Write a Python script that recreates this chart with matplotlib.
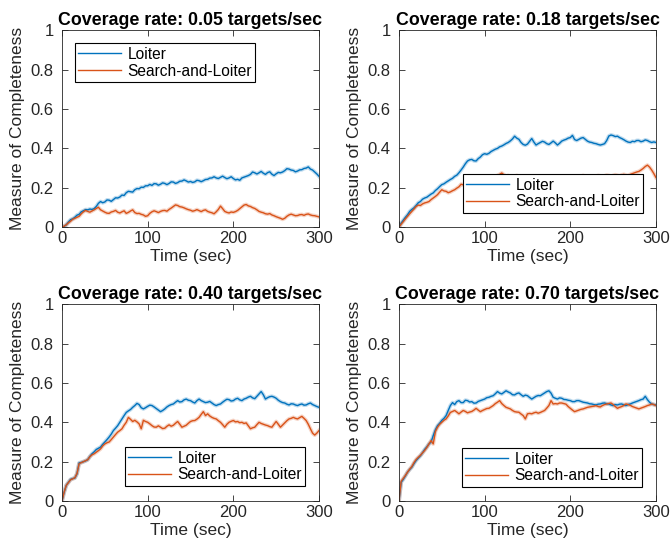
import matplotlib
matplotlib.use("Agg")
import matplotlib.pyplot as plt
import numpy as np

plt.rcParams['font.family'] = ['Liberation Sans', 'DejaVu Sans']

# time axis: one sample every 2.5 s, 0..300 s
time_sec = np.linspace(0, 300, 121)

rates = ["0.05", "0.18", "0.40", "0.70"]
series_names = ["Loiter", "Search-and-Loiter"]
x_ticks = [0, 100, 200, 300]
y_ticks = [0, 0.2, 0.4, 0.6, 0.8, 1]
y_tick_labels = ["0", "0.2", "0.4", "0.6", "0.8", "1"]

# rate 0.05
loiter_005 = [
    0.000, 0.004, 0.012, 0.026, 0.038, 0.042, 0.050, 0.061, 0.065, 0.078,
    0.083, 0.089, 0.088, 0.092, 0.090, 0.094, 0.105, 0.121, 0.130, 0.124,
    0.128, 0.138, 0.137, 0.131, 0.140, 0.149, 0.148, 0.153, 0.163, 0.161,
    0.175, 0.182, 0.180, 0.178, 0.190, 0.196, 0.195, 0.203, 0.202, 0.210,
    0.210, 0.217, 0.212, 0.221, 0.220, 0.213, 0.218, 0.225, 0.222, 0.216,
    0.222, 0.230, 0.229, 0.222, 0.226, 0.233, 0.234, 0.240, 0.235, 0.229,
    0.232, 0.227, 0.230, 0.238, 0.236, 0.231, 0.236, 0.242, 0.243, 0.249,
    0.250, 0.256, 0.250, 0.247, 0.253, 0.259, 0.252, 0.246, 0.250, 0.256,
    0.247, 0.240, 0.243, 0.238, 0.250, 0.254, 0.258, 0.262, 0.268, 0.280,
    0.276, 0.270, 0.276, 0.283, 0.274, 0.268, 0.277, 0.281, 0.269, 0.262,
    0.271, 0.278, 0.276, 0.280, 0.287, 0.297, 0.295, 0.290, 0.288, 0.281,
    0.285, 0.291, 0.292, 0.298, 0.300, 0.306, 0.295, 0.290, 0.280, 0.270,
    0.258]
search_005 = [
    0.000, 0.005, 0.012, 0.022, 0.030, 0.040, 0.045, 0.050, 0.055, 0.068,
    0.078, 0.085, 0.080, 0.076, 0.082, 0.088, 0.095, 0.101, 0.088, 0.082,
    0.076, 0.071, 0.070, 0.077, 0.080, 0.085, 0.076, 0.072, 0.078, 0.083,
    0.070, 0.075, 0.082, 0.088, 0.074, 0.069, 0.070, 0.065, 0.062, 0.055,
    0.058, 0.070, 0.078, 0.083, 0.079, 0.074, 0.080, 0.084, 0.085, 0.081,
    0.090, 0.097, 0.105, 0.113, 0.110, 0.104, 0.102, 0.098, 0.093, 0.089,
    0.086, 0.081, 0.084, 0.089, 0.084, 0.079, 0.085, 0.088, 0.080, 0.076,
    0.073, 0.068, 0.078, 0.090, 0.107, 0.094, 0.080, 0.075, 0.072, 0.077,
    0.075, 0.079, 0.085, 0.094, 0.103, 0.112, 0.115, 0.108, 0.105, 0.099,
    0.095, 0.088, 0.080, 0.076, 0.073, 0.068, 0.066, 0.069, 0.062, 0.058,
    0.053, 0.049, 0.045, 0.040, 0.045, 0.055, 0.062, 0.066, 0.062, 0.058,
    0.059, 0.063, 0.064, 0.060, 0.065, 0.067, 0.062, 0.059, 0.058, 0.055,
    0.052]

# rate 0.18
loiter_018 = [
    0.000, 0.020, 0.035, 0.050, 0.063, 0.080, 0.090, 0.098, 0.110, 0.124,
    0.130, 0.142, 0.148, 0.152, 0.160, 0.168, 0.174, 0.186, 0.195, 0.206,
    0.216, 0.220, 0.228, 0.235, 0.242, 0.248, 0.258, 0.264, 0.276, 0.290,
    0.305, 0.322, 0.336, 0.342, 0.344, 0.337, 0.336, 0.348, 0.356, 0.368,
    0.373, 0.370, 0.375, 0.384, 0.390, 0.396, 0.400, 0.408, 0.412, 0.418,
    0.425, 0.430, 0.438, 0.448, 0.462, 0.452, 0.446, 0.430, 0.420, 0.416,
    0.422, 0.436, 0.450, 0.432, 0.417, 0.424, 0.430, 0.436, 0.432, 0.424,
    0.420, 0.428, 0.437, 0.428, 0.417, 0.426, 0.437, 0.442, 0.446, 0.452,
    0.455, 0.466, 0.445, 0.440, 0.446, 0.452, 0.455, 0.446, 0.437, 0.432,
    0.430, 0.426, 0.424, 0.420, 0.417, 0.420, 0.424, 0.440, 0.463, 0.468,
    0.465, 0.460, 0.462, 0.455, 0.450, 0.444, 0.437, 0.432, 0.430, 0.436,
    0.434, 0.440, 0.440, 0.434, 0.437, 0.443, 0.440, 0.434, 0.430, 0.433,
    0.430]
search_018 = [
    0.000, 0.015, 0.028, 0.042, 0.055, 0.068, 0.080, 0.092, 0.105, 0.112,
    0.110, 0.118, 0.123, 0.126, 0.130, 0.140, 0.148, 0.156, 0.165, 0.178,
    0.190, 0.184, 0.182, 0.175, 0.179, 0.185, 0.190, 0.198, 0.205, 0.218,
    0.215, 0.212, 0.220, 0.226, 0.222, 0.230, 0.228, 0.235, 0.240, 0.236,
    0.242, 0.248, 0.245, 0.252, 0.250, 0.258, 0.262, 0.268, 0.275, 0.266,
    0.258, 0.262, 0.255, 0.250, 0.256, 0.262, 0.258, 0.252, 0.248, 0.255,
    0.260, 0.256, 0.250, 0.246, 0.252, 0.258, 0.255, 0.250, 0.245, 0.250,
    0.255, 0.252, 0.248, 0.254, 0.260, 0.256, 0.250, 0.255, 0.258, 0.252,
    0.248, 0.254, 0.260, 0.256, 0.252, 0.258, 0.262, 0.258, 0.255, 0.260,
    0.256, 0.252, 0.258, 0.262, 0.260, 0.256, 0.260, 0.264, 0.262, 0.258,
    0.262, 0.266, 0.263, 0.260, 0.265, 0.268, 0.264, 0.262, 0.268, 0.272,
    0.276, 0.280, 0.283, 0.290, 0.298, 0.308, 0.315, 0.305, 0.290, 0.272,
    0.252]

# rate 0.40
loiter_040 = [
    0.000, 0.045, 0.080, 0.095, 0.110, 0.114, 0.117, 0.138, 0.194, 0.196,
    0.200, 0.204, 0.210, 0.226, 0.240, 0.250, 0.262, 0.268, 0.274, 0.288,
    0.300, 0.312, 0.325, 0.340, 0.358, 0.370, 0.383, 0.400, 0.417, 0.434,
    0.450, 0.458, 0.465, 0.476, 0.485, 0.496, 0.490, 0.474, 0.468, 0.474,
    0.481, 0.487, 0.485, 0.478, 0.470, 0.462, 0.454, 0.460, 0.468, 0.478,
    0.485, 0.490, 0.493, 0.502, 0.510, 0.503, 0.505, 0.514, 0.518, 0.512,
    0.510, 0.503, 0.498, 0.510, 0.518, 0.510, 0.505, 0.500, 0.502, 0.506,
    0.498, 0.490, 0.485, 0.490, 0.493, 0.502, 0.510, 0.517, 0.515, 0.508,
    0.510, 0.518, 0.522, 0.514, 0.510, 0.518, 0.522, 0.528, 0.532, 0.524,
    0.520, 0.532, 0.544, 0.556, 0.540, 0.518, 0.525, 0.530, 0.532, 0.528,
    0.522, 0.512, 0.505, 0.500, 0.498, 0.492, 0.488, 0.494, 0.493, 0.488,
    0.485, 0.490, 0.493, 0.487, 0.488, 0.494, 0.498, 0.490, 0.485, 0.480,
    0.476]
search_040 = [
    0.000, 0.045, 0.080, 0.094, 0.108, 0.113, 0.118, 0.140, 0.190, 0.195,
    0.200, 0.205, 0.210, 0.225, 0.235, 0.240, 0.248, 0.256, 0.265, 0.280,
    0.290, 0.296, 0.300, 0.312, 0.325, 0.338, 0.350, 0.358, 0.367, 0.385,
    0.400, 0.425, 0.415, 0.404, 0.410, 0.402, 0.392, 0.367, 0.410, 0.404,
    0.400, 0.392, 0.383, 0.376, 0.375, 0.382, 0.375, 0.368, 0.370, 0.380,
    0.387, 0.380, 0.385, 0.395, 0.404, 0.390, 0.375, 0.380, 0.385, 0.395,
    0.404, 0.408, 0.409, 0.416, 0.425, 0.440, 0.454, 0.434, 0.443, 0.432,
    0.425, 0.420, 0.417, 0.408, 0.400, 0.388, 0.375, 0.390, 0.400, 0.405,
    0.409, 0.402, 0.404, 0.398, 0.400, 0.394, 0.397, 0.382, 0.367, 0.372,
    0.375, 0.388, 0.400, 0.394, 0.390, 0.386, 0.383, 0.378, 0.375, 0.390,
    0.404, 0.390, 0.375, 0.386, 0.397, 0.408, 0.417, 0.420, 0.425, 0.420,
    0.417, 0.424, 0.430, 0.420, 0.409, 0.390, 0.367, 0.345, 0.335, 0.345,
    0.358]

# rate 0.70
loiter_070 = [
    0.000, 0.095, 0.110, 0.128, 0.147, 0.160, 0.172, 0.190, 0.206, 0.218,
    0.230, 0.245, 0.262, 0.275, 0.290, 0.300, 0.333, 0.362, 0.383, 0.395,
    0.410, 0.420, 0.434, 0.460, 0.485, 0.500, 0.490, 0.505, 0.510, 0.500,
    0.500, 0.512, 0.510, 0.503, 0.505, 0.497, 0.498, 0.506, 0.510, 0.514,
    0.518, 0.525, 0.527, 0.532, 0.535, 0.545, 0.556, 0.548, 0.544, 0.552,
    0.560, 0.554, 0.549, 0.540, 0.539, 0.546, 0.549, 0.540, 0.532, 0.538,
    0.535, 0.526, 0.518, 0.525, 0.532, 0.536, 0.535, 0.542, 0.549, 0.556,
    0.560, 0.548, 0.527, 0.522, 0.518, 0.524, 0.522, 0.516, 0.515, 0.512,
    0.510, 0.505, 0.505, 0.510, 0.510, 0.506, 0.502, 0.500, 0.498, 0.494,
    0.493, 0.490, 0.488, 0.492, 0.493, 0.497, 0.498, 0.494, 0.493, 0.488,
    0.485, 0.490, 0.488, 0.492, 0.493, 0.488, 0.485, 0.490, 0.493, 0.498,
    0.502, 0.506, 0.510, 0.515, 0.518, 0.532, 0.515, 0.502, 0.493, 0.490,
    0.488]
search_070 = [
    0.000, 0.100, 0.115, 0.130, 0.147, 0.162, 0.175, 0.195, 0.211, 0.222,
    0.232, 0.245, 0.257, 0.272, 0.290, 0.307, 0.290, 0.353, 0.375, 0.390,
    0.400, 0.410, 0.417, 0.432, 0.450, 0.455, 0.460, 0.452, 0.443, 0.452,
    0.460, 0.455, 0.448, 0.452, 0.455, 0.462, 0.471, 0.462, 0.454, 0.460,
    0.465, 0.470, 0.471, 0.478, 0.485, 0.495, 0.502, 0.510, 0.495, 0.485,
    0.476, 0.472, 0.468, 0.460, 0.454, 0.452, 0.451, 0.442, 0.434, 0.417,
    0.443, 0.445, 0.443, 0.448, 0.451, 0.446, 0.450, 0.455, 0.460, 0.472,
    0.485, 0.510, 0.493, 0.495, 0.493, 0.498, 0.498, 0.495, 0.492, 0.480,
    0.471, 0.462, 0.454, 0.458, 0.462, 0.466, 0.468, 0.472, 0.476, 0.478,
    0.480, 0.482, 0.485, 0.480, 0.478, 0.485, 0.490, 0.493, 0.495, 0.498,
    0.490, 0.480, 0.471, 0.476, 0.480, 0.486, 0.493, 0.490, 0.486, 0.480,
    0.476, 0.472, 0.468, 0.472, 0.476, 0.480, 0.485, 0.488, 0.493, 0.490,
    0.485]

loiter_all = [loiter_005, loiter_018, loiter_040, loiter_070]
search_all = [search_005, search_018, search_040, search_070]

# legend anchor (axes coords, upper-left corner) for each panel
legend_pos = [(0.05, 0.934), (0.249, 0.269), (0.245, 0.274), (0.245, 0.269)]

blue = "#0072BD"
orange = "#D95319"
dark = "#262626"

fig = plt.figure(figsize=(6.71, 5.5), dpi=100)
# panel rectangles in figure fractions
panel_rects = [[0.0924, 0.587, 0.383, 0.358], [0.5946, 0.587, 0.383, 0.358],
               [0.0924, 0.089, 0.383, 0.358], [0.5946, 0.089, 0.383, 0.358]]

for i in range(4):
    ax = fig.add_axes(panel_rects[i])
    # faint wide underlay mimics the fuzzy noise band of the original traces
    ax.plot(time_sec, loiter_all[i], color=blue, lw=2.8, alpha=0.25)
    ax.plot(time_sec, search_all[i], color=orange, lw=2.8, alpha=0.25)
    ax.plot(time_sec, loiter_all[i], color=blue, lw=1.0, label=series_names[0])
    ax.plot(time_sec, search_all[i], color=orange, lw=1.0, label=series_names[1])

    ax.set_xlim(0, 300)
    ax.set_ylim(0, 1)
    ax.set_xticks(x_ticks)
    ax.set_yticks(y_ticks)
    ax.set_yticklabels(y_tick_labels)
    ax.tick_params(direction="in", top=True, right=True, length=4, width=0.6,
                   colors=dark, labelsize=12)
    ax.tick_params(axis="x", pad=3)
    ax.tick_params(axis="y", pad=6)
    for sp in ax.spines.values():
        sp.set_color(dark)
        sp.set_linewidth(0.6)

    ax.set_title("Coverage rate: " + rates[i] + " targets/sec", fontsize=12.8,
                 fontweight="bold", pad=4)
    ax.set_xlabel("Time (sec)", fontsize=12.5, color=dark, labelpad=2)
    ax.set_ylabel("Measure of Completeness", fontsize=12.5, color=dark, labelpad=4)

    leg = ax.legend(loc="upper left", bbox_to_anchor=legend_pos[i], borderaxespad=0,
                    fontsize=11.2, handlelength=2.75, handletextpad=0.4,
                    labelspacing=0.12, borderpad=0.22, fancybox=False, framealpha=1)
    leg.get_frame().set_edgecolor("black")
    leg.get_frame().set_linewidth(0.8)

fig.savefig("out.png", dpi=100)
